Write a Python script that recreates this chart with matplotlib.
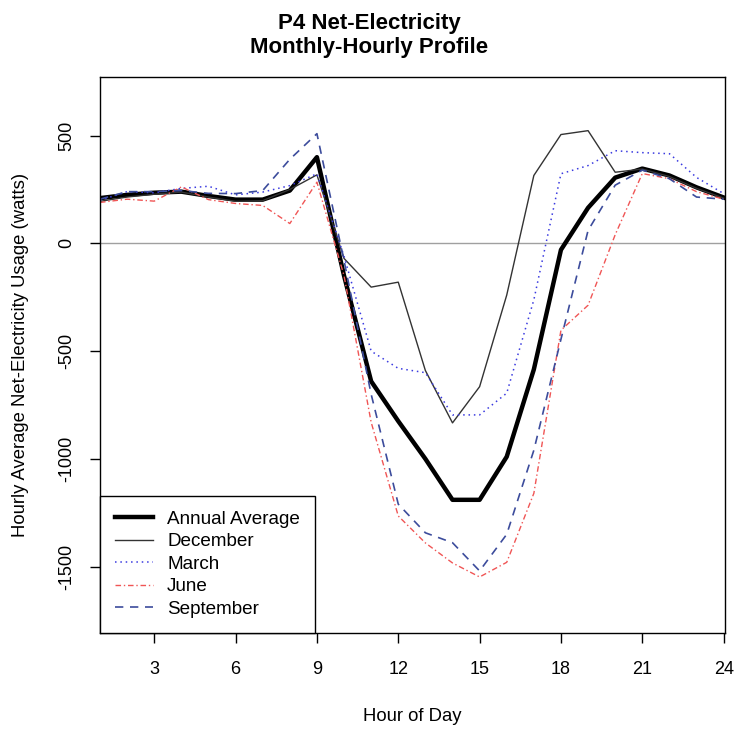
import numpy as np
import matplotlib
matplotlib.use("Agg")
import matplotlib.pyplot as plt

plt.rcParams['font.family'] = ['Liberation Sans', 'DejaVu Sans']

hours = list(range(1, 25))

annual = [210, 225, 235, 240, 220, 203, 203, 245, 400, -150, -640, -825,
          -1000, -1190, -1190, -990, -585, -30, 165, 305, 347, 315, 260, 213]
december = [195, 215, 228, 238, 215, 195, 198, 250, 318, -70, -203, -180,
            -590, -833, -665, -240, 315, 505, 523, 330, 345, 310, 255, 210]
march = [200, 240, 235, 255, 265, 225, 238, 268, 323, -60, -500, -580,
         -600, -796, -796, -695, -262, 323, 361, 430, 421, 416, 306, 231]
june = [190, 205, 196, 262, 203, 185, 176, 92, 284, -150, -830, -1265,
        -1390, -1483, -1548, -1480, -1160, -403, -287, 40, 324, 300, 240, 205]
september = [205, 240, 240, 245, 232, 231, 245, 390, 509, -80, -700, -1210,
             -1343, -1389, -1520, -1350, -960, -445, 60, 270, 340, 300, 215, 205]

xticks = [3, 6, 9, 12, 15, 18, 21, 24]
yticks = [-1500, -1000, -500, 0, 500]

fig = plt.figure(figsize=(7.38, 7.32), dpi=100)
ax = fig.add_axes([100 / 738, 1 - 633 / 732, 625 / 738, 556 / 732])

ax.axhline(0, color='#a0a0a0', lw=1)
ax.plot(hours, annual, color='black', lw=3.2, label='Annual Average')
ax.plot(hours, december, color='#333333', lw=1.0, label='December')
ax.plot(hours, march, color='#3a3ae0', lw=1.1, ls=(0, (1, 2.5)), label='March')
ax.plot(hours, june, color='#f05555', lw=1.0, ls=(0, (4, 2, 1, 2)), label='June')
ax.plot(hours, september, color='#3c4c9c', lw=1.2, ls=(0, (5, 4)), label='September')

ax.set_xlim(1, 24.05)
ax.set_ylim(-1808, 772)
ax.set_xticks(xticks)
ax.set_yticks(yticks)
ax.set_yticklabels([str(v) for v in yticks], rotation=90, va='center')
ax.tick_params(direction='out', length=7, width=1, labelsize=13)
ax.tick_params(axis='x', pad=13)
ax.tick_params(axis='y', pad=11)
for s in ax.spines.values():
    s.set_linewidth(1.0)

ax.set_xlabel('Hour of Day', fontsize=13.3, labelpad=22)
ax.set_ylabel('Hourly Average Net-Electricity Usage (watts)', fontsize=13.3, labelpad=21)
fig.suptitle('P4 Net-Electricity\nMonthly-Hourly Profile', fontsize=16, fontweight='bold',
             y=0.982, linespacing=1.2)

leg = ax.legend(loc='lower left', bbox_to_anchor=(0, 0), borderaxespad=0,
                fancybox=False, edgecolor='black', framealpha=1, fontsize=13.6,
                handlelength=2.0, handletextpad=0.75, labelspacing=0.28,
                borderpad=0.8)
leg.get_frame().set_linewidth(1.0)

fig.savefig('out.png', dpi=100)
